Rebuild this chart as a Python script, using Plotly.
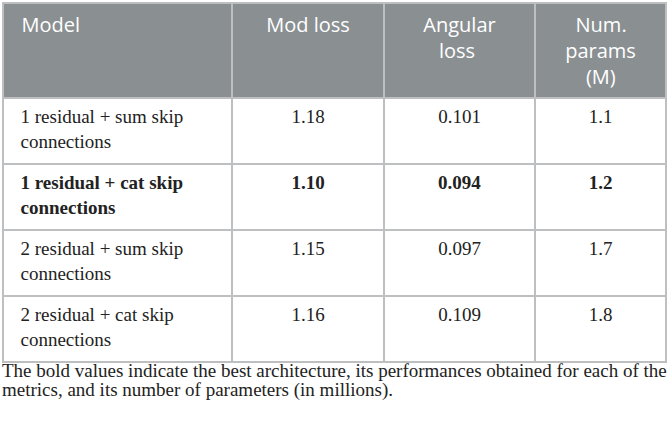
import plotly.graph_objects as go

W, H = 670, 422

headers = ["Model<br> ", "Mod loss<br> ", "Angular<br>   loss", "  Num.<br>params<br>    (M)"]
models = [("1 residual + sum skip", "connections"),
          ("1 residual + cat skip", "connections"),
          ("2 residual + sum skip", "connections"),
          ("2 residual + cat skip", "connections")]
mod_loss = ["1.18", "1.10", "1.15", "1.16"]
angular_loss = ["0.101", "0.094", "0.097", "0.109"]
num_params = ["1.1", "1.2", "1.7", "1.8"]
best_row = 1
caption_lines = ["The bold values indicate the best architecture, its performances obtained for each of the",
                 "metrics, and its number of parameters (in millions)."]

def fmt(v, i):
    return f"<b>{v}</b>" if i == best_row else v

col_model = ["  " + fmt(a, i) + "<br>  " + fmt(b, i) for i, (a, b) in enumerate(models)]
col_mod = [fmt(v, i) + "<br> " for i, v in enumerate(mod_loss)]
col_ang = [fmt(v, i) + "<br> " for i, v in enumerate(angular_loss)]
col_num = [fmt(v, i) + "<br> " for i, v in enumerate(num_params)]

colw = [229, 152, 151, 131]
border = "#BDBFC0"
header_fill = "#8A8F92"
aligns = ["left", "center", "center", "center"]

def py(px):
    return 1 - px / H

fig = go.Figure(go.Table(
    domain=dict(x=[3 / W, 666 / W], y=[py(364), py(3)]),
    columnwidth=colw,
    header=dict(values=["  " + headers[0]] + headers[1:],
                fill_color=header_fill,
                line=dict(color=border, width=1.5),
                font=dict(family="Open Sans", size=20, color="white"),
                align=aligns,
                height=94),
    cells=dict(values=[col_model, col_mod, col_ang, col_num],
               fill_color="white",
               line=dict(color=border, width=1.5),
               font=dict(family="Liberation Serif", size=19, color="#222222"),
               align=aligns,
               height=66),
))

for k, line in enumerate(caption_lines):
    fig.add_annotation(text=line, xref="paper", yref="paper", x=0, y=py(370 + 20 * k),
                       xanchor="left", yanchor="middle", showarrow=False,
                       font=dict(family="Liberation Serif", size=19, color="#222222"))

fig.update_layout(width=W, height=H, margin=dict(l=0, r=0, t=0, b=0),
                  paper_bgcolor="white", plot_bgcolor="white")
fig.write_html("out.html", config={"displayModeBar": False},
               post_script="document.body.style.margin='0';")
